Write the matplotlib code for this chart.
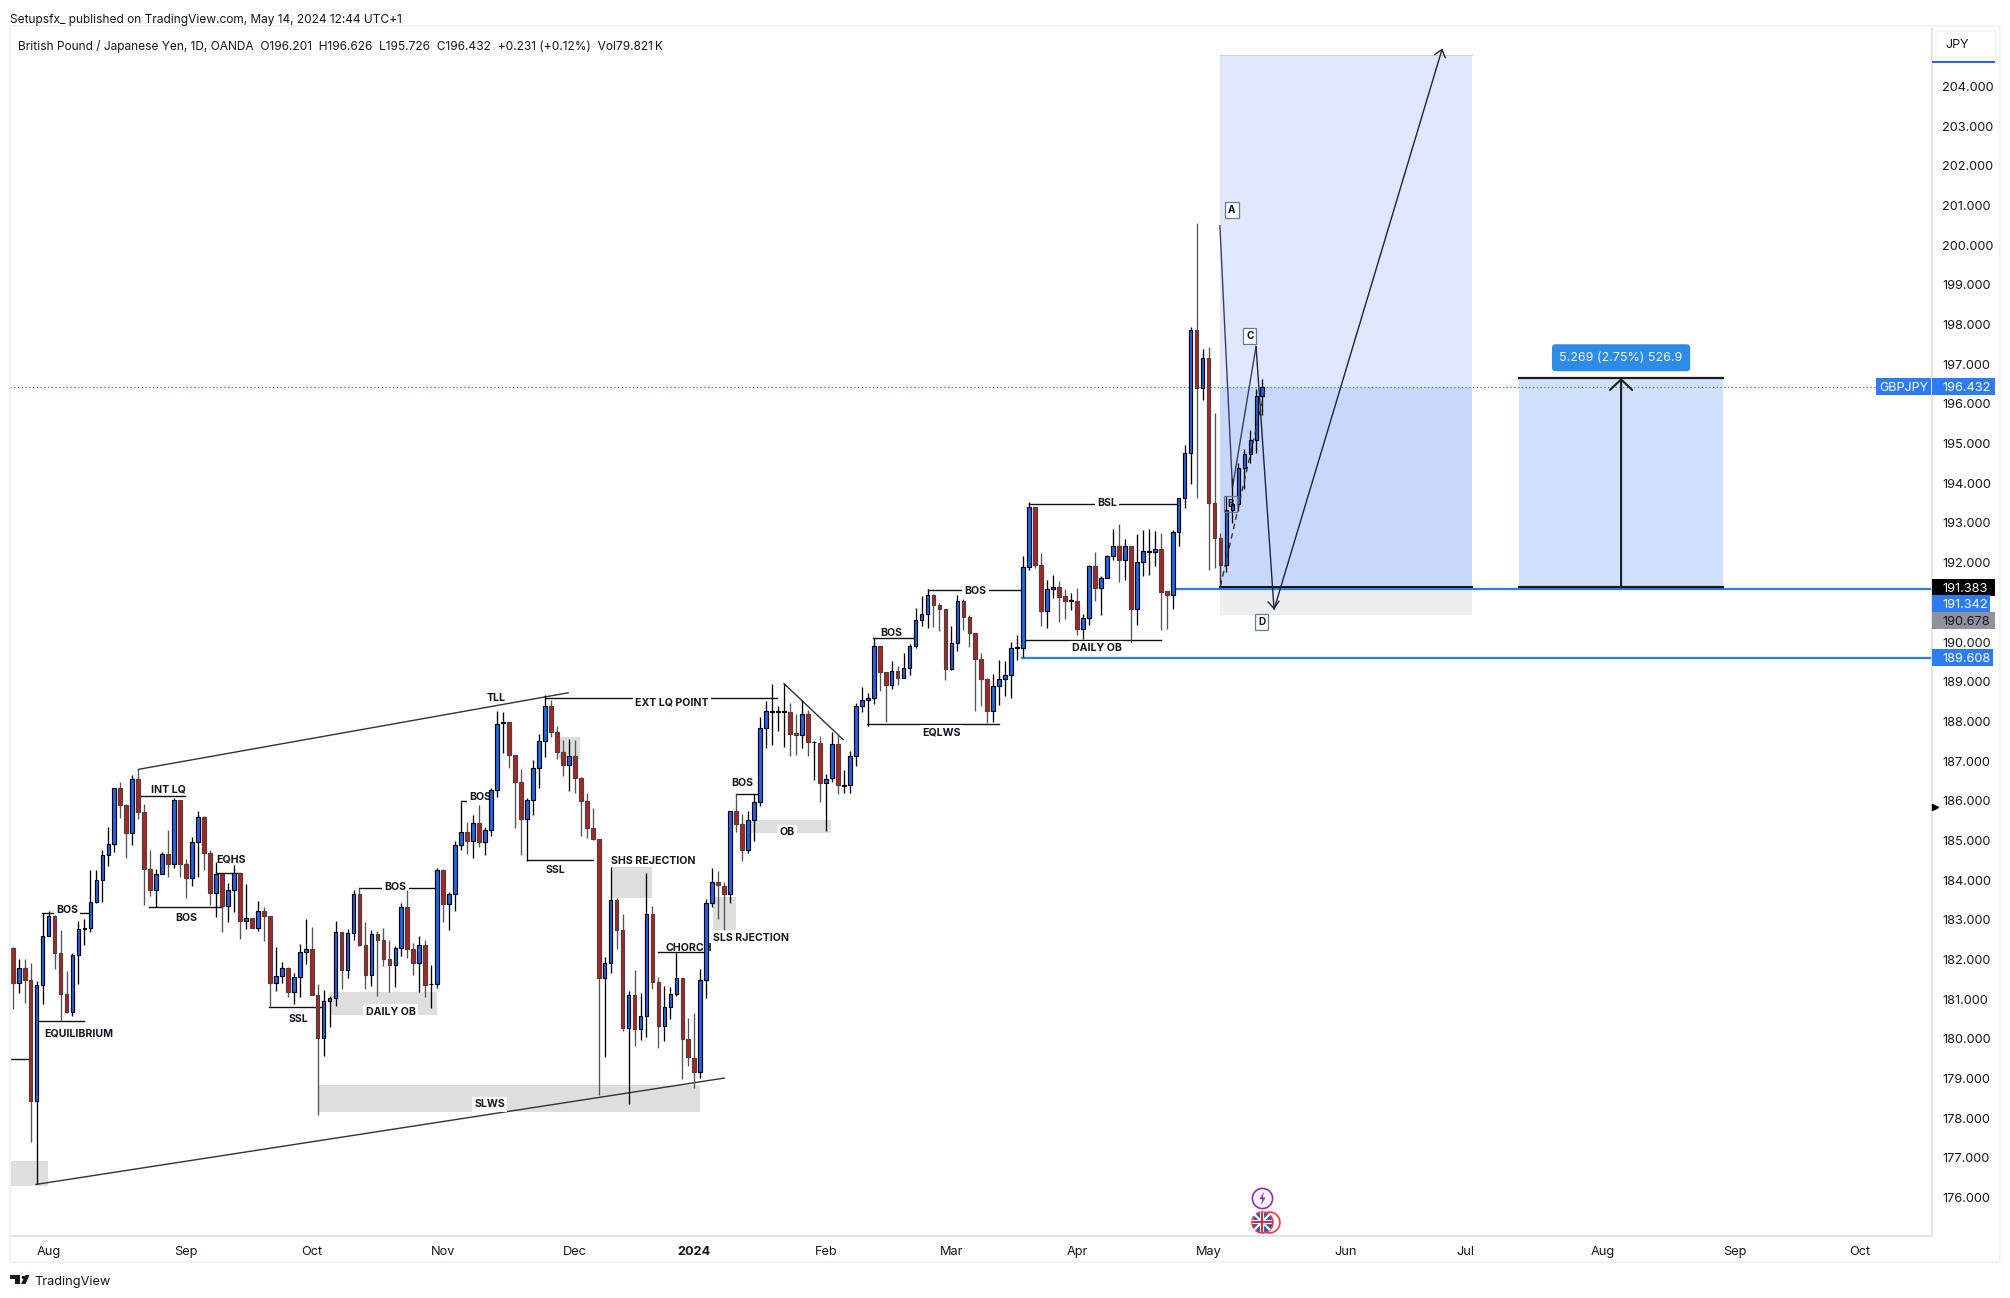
#! /usr/bin/env python

import matplotlib
matplotlib.use('Agg')
import matplotlib.pyplot as plt
from matplotlib.patches import Rectangle, FancyBboxPatch, Polygon, Circle
from matplotlib.path import Path

plt.rcParams['font.family'] = ['Inter', 'DejaVu Sans']

W, H = 2010, 1298

opens = [
    182.29,181.41,181.79,181.49,178.44,181.36,182.60,183.10,182.17,181.12,
    180.68,182.12,182.77,182.80,183.45,184.01,184.64,184.91,186.31,185.88,
    185.19,186.54,185.72,184.28,183.74,184.16,184.66,184.41,186.02,184.41,
    184.06,184.96,185.59,184.69,183.68,184.16,183.35,183.74,184.18,182.97,
    183.05,182.80,183.22,183.10,181.41,181.59,181.79,181.18,181.56,182.19,
    182.27,181.11,180.02,180.96,181.04,182.70,181.74,182.67,183.64,182.37,
    181.61,182.64,182.48,182.01,181.86,182.29,183.33,182.27,181.91,182.37,
    181.38,181.38,184.26,183.40,183.64,184.89,185.22,184.99,185.44,184.96,
    185.25,186.28,187.96,187.98,187.15,186.46,185.53,186.03,186.83,187.50,
    188.38,187.74,187.22,186.89,187.12,186.58,185.99,185.32,185.03,181.52,
    181.92,183.51,182.75,180.28,181.10,180.24,180.58,183.14,181.44,180.33,
    180.81,181.14,181.52,180.00,179.52,179.17,181.47,183.43,183.94,183.86,
    183.64,185.73,185.42,184.77,185.52,185.96,187.84,188.24,188.24,188.24,
    188.23,187.70,187.65,188.18,187.47,187.45,186.44,186.57,187.42,186.38,
    186.39,187.12,188.40,188.53,188.60,189.89,189.24,188.91,189.26,189.10,
    189.34,189.91,190.56,190.71,191.18,190.94,190.82,189.33,189.97,191.03,
    190.64,190.22,189.58,189.08,188.27,188.90,189.08,189.16,189.85,189.86,
    191.90,193.40,191.93,190.79,191.33,191.38,191.15,191.04,191.03,190.34,
    190.61,191.92,191.35,191.62,192.16,192.41,192.06,192.41,190.84,192.01,
    192.28,192.28,192.34,191.28,191.19,192.77,193.62,194.76,197.86,196.41,
    197.15,193.51,192.63,191.93,193.32,193.49,194.38,194.73,195.10,196.201,
]
highs = [
    182.32,182.00,182.02,181.90,181.45,183.18,183.23,183.13,182.75,181.72,
    182.17,182.96,183.01,184.25,184.25,184.75,185.33,186.31,186.47,185.93,
    186.66,186.79,185.93,184.77,184.27,184.70,185.25,186.06,186.02,184.54,
    185.08,185.75,185.61,184.75,184.45,184.16,183.93,184.38,184.18,183.91,
    183.05,183.48,183.33,183.10,182.31,181.94,181.81,181.66,182.40,183.01,
    182.81,181.37,181.24,181.07,182.96,182.70,182.77,183.75,183.80,182.94,
    182.73,182.71,182.80,182.50,182.35,183.41,183.74,182.42,182.58,182.50,
    181.87,184.31,184.28,183.70,184.98,185.97,185.46,185.65,185.89,185.33,
    186.31,188.27,188.24,187.98,187.15,186.79,186.08,187.03,187.68,188.66,
    188.53,187.89,187.52,187.55,187.52,186.60,186.20,185.81,185.03,182.05,
    184.33,183.56,183.14,181.21,181.73,181.16,184.18,183.35,181.56,181.33,
    181.31,182.17,181.52,180.53,180.66,181.75,183.52,184.30,184.23,183.94,
    185.73,186.18,185.66,185.74,186.18,188.12,188.52,188.94,188.39,188.95,
    188.47,188.18,188.53,188.28,187.51,187.63,186.67,187.72,187.68,186.77,
    187.26,188.47,188.87,188.72,190.09,189.89,189.24,189.52,189.40,189.72,
    189.96,190.85,191.16,191.33,191.20,190.98,190.82,190.40,191.18,191.08,
    190.68,190.22,189.72,189.10,189.19,189.54,189.52,190.01,190.18,192.16,
    193.54,193.40,192.24,191.56,191.68,191.53,191.33,191.24,191.35,190.70,
    191.93,192.27,191.66,192.19,192.84,192.97,192.59,192.41,192.71,192.82,
    192.84,192.80,192.74,191.29,192.82,193.64,194.96,197.93,200.55,197.38,
    197.44,195.77,192.74,193.68,194.14,194.52,194.86,195.34,196.37,196.626,
]
lows = [
    180.76,181.16,180.91,177.40,176.33,180.88,182.60,181.76,180.46,180.65,
    180.57,181.38,182.36,182.70,183.42,183.45,184.35,184.70,185.57,184.56,
    184.88,185.54,183.38,183.59,183.33,184.16,184.08,184.31,184.08,183.55,
    183.86,184.08,184.25,183.38,183.07,182.70,182.95,183.20,182.52,182.77,
    182.80,182.71,182.46,180.81,181.20,181.41,181.06,180.88,181.06,181.89,
    181.11,178.09,179.56,180.30,180.82,181.26,181.54,182.49,182.33,181.26,
    181.33,181.07,181.83,181.18,181.30,182.08,182.04,181.62,181.18,181.05,
    180.78,181.28,182.94,182.75,183.22,184.76,184.66,184.56,184.83,184.63,
    185.11,186.10,187.21,186.83,185.32,184.63,184.48,185.64,186.31,187.11,
    187.61,187.06,186.63,186.25,186.20,185.10,185.05,185.00,178.58,179.55,
    181.67,182.27,180.20,178.35,179.82,179.97,180.05,181.26,179.78,179.94,
    180.51,181.08,178.99,179.31,178.75,179.02,181.02,183.31,183.03,182.74,
    183.43,185.20,184.48,184.69,184.99,185.87,187.34,187.41,187.76,187.36,
    187.13,187.15,187.34,187.13,186.52,185.98,185.24,186.46,186.18,186.20,
    186.20,186.88,188.24,187.88,188.45,188.77,187.99,188.82,188.92,189.10,
    189.17,189.86,190.40,190.36,190.38,190.28,189.04,189.30,189.77,190.30,
    189.88,188.25,188.39,187.97,187.99,188.41,188.64,188.60,189.55,189.62,
    191.82,191.87,190.40,190.36,191.12,190.51,190.59,190.80,190.18,190.07,
    190.43,191.03,190.68,191.62,192.07,191.50,191.56,190.01,190.43,191.66,
    191.69,191.92,190.30,190.34,190.84,192.42,193.37,193.99,193.64,196.11,
    191.81,191.87,191.37,191.77,193.01,193.30,193.85,194.50,194.76,195.726,
]
closes = [
    181.41,181.79,181.49,178.44,181.36,182.60,183.10,182.17,181.12,180.68,
    182.12,182.77,182.80,183.45,184.01,184.64,184.91,186.31,185.88,185.19,
    186.54,185.72,184.28,183.74,184.16,184.66,184.41,186.02,184.41,184.06,
    184.96,185.59,184.69,183.68,184.16,183.35,183.74,184.18,182.97,183.05,
    182.80,183.22,183.10,181.41,181.59,181.79,181.18,181.56,182.19,182.27,
    181.11,180.02,180.96,181.04,182.70,181.74,182.67,183.64,182.37,181.61,
    182.64,182.48,182.01,181.86,182.29,183.33,182.27,181.91,182.37,181.36,
    181.39,184.26,183.40,183.64,184.89,185.22,184.99,185.44,184.96,185.25,
    186.27,187.94,187.98,187.15,186.46,185.53,186.03,186.83,187.50,188.38,
    187.74,187.22,186.89,187.12,186.58,185.99,185.32,185.03,181.52,181.92,
    183.51,182.75,180.28,181.10,180.24,180.58,183.14,181.44,180.33,180.81,
    181.14,181.52,180.00,179.54,179.17,181.47,183.43,183.94,183.87,183.64,
    185.73,185.42,184.77,185.52,185.96,187.84,188.25,188.26,188.26,188.26,
    187.69,187.65,188.18,187.47,187.48,186.44,186.56,187.42,186.39,186.40,
    187.12,188.40,188.53,188.60,189.89,189.24,188.91,189.26,189.10,189.34,
    189.91,190.56,190.71,191.18,190.94,190.82,189.33,189.97,191.03,190.64,
    190.22,189.58,189.08,188.27,188.90,189.08,189.16,189.84,189.87,191.90,
    193.40,191.93,190.79,191.33,191.38,191.14,191.04,191.06,190.34,190.61,
    191.92,191.35,191.62,192.16,192.41,192.06,192.41,190.84,192.01,192.29,
    192.30,192.34,191.27,191.19,192.77,193.62,194.76,197.86,196.41,197.15,
    193.51,192.63,191.93,193.32,193.49,194.38,194.73,195.10,196.19,196.432,
]

price_ticks = list(range(176, 205))
month_bars = [6, 29, 50, 72, 94, 114, 136, 157, 178, 200, 223, 243, 266, 288, 309]
month_labels = ['Aug', 'Sep', 'Oct', 'Nov', 'Dec', '2024', 'Feb', 'Mar', 'Apr', 'May', 'Jun', 'Jul', 'Aug', 'Sep', 'Oct']

# grey zones: bar from, bar to, price low, price high
zones = [
    (-0.45, 5.9, 176.30, 176.91),
    (53.07, 70.9, 180.60, 181.17),
    (51.0, 114.96, 178.16, 178.83),
    (91.4, 94.9, 187.06, 187.61),
    (100.0, 106.9, 183.55, 184.33),
    (117.1, 121.0, 182.74, 183.57),
    (123.3, 136.8, 185.19, 185.51),
]
# horizontal levels: bar from, bar to, price
levels = [
    (4.85, 12.65, 183.18),
    (4.35, 11.93, 180.46),
    (-0.45, 2.8, 179.48),
    (21.4, 28.9, 186.11),
    (22.8, 34.95, 183.33),
    (33.95, 38.0, 184.18),
    (42.9, 51.7, 180.81),
    (57.97, 70.9, 183.79),
    (74.9, 75.9, 186.0),
    (89.0, 127.9, 188.58),
    (86.0, 97.0, 184.50),
    (107.9, 116.1, 182.18),
    (121.0, 124.7, 186.18),
    (142.95, 165.0, 187.93),
    (143.95, 150.6, 190.09),
    (153.0, 168.76, 191.30),
    (170.0, 194.96, 193.47),
    (169.3, 192.0, 190.04),
]
# sloped lines: bar, price, bar, price
trendlines = [
    (21.0, 186.79, 92.9, 188.72),
    (3.9, 176.33, 119.0, 179.01),
    (129.0, 188.95, 138.9, 187.54),
]
labels = ['BOS', 'EQUILIBRIUM', 'INT LQ', 'BOS', 'EQHS', 'SSL', 'DAILY OB', 'BOS', 'BOS', 'SLWS', 'TLL',
          'EXT LQ POINT', 'SSL', 'SHS REJECTION', 'SLS RJECTION', 'CHORCH', 'BOS', 'OB', 'EQLWS', 'BOS',
          'BOS', 'BSL', 'DAILY OB']
label_bars = [9.1, 10.98, 26.1, 29.1, 36.57, 47.8, 63.2, 64.05, 78.15, 79.8, 80.8,
              110.2, 90.8, 107.15, 123.5, 113.0, 122.1, 129.5, 155.3, 147.0,
              161.06, 183.0, 181.3]
label_prices = [183.28, 180.17, 186.31, 183.08, 184.54, 180.53, 180.71, 183.86, 186.11, 178.37, 188.62,
                188.50, 184.27, 184.50, 182.56, 182.32, 186.46, 185.23, 187.74, 190.24,
                191.30, 193.54, 189.88]
label_boxed = [True, False, False, False, False, False, True, True, True, True, False,
               True, False, False, False, False, False, True, True, False,
               True, True, True]

pattern_bars = [201.9, 204.0, 207.95, 210.96, 239.1]
pattern_prices = [200.49, 193.89, 197.45, 190.82, 204.96]
pattern_letters = ['A', 'B', 'C', 'D']
letter_bars = [203.9, 203.7, 206.9, 208.9]
letter_prices = [200.91, 193.5, 197.73, 190.53]

long_start, long_end = 201.95, 244.1
long_top, long_entry, long_stop = 204.80, 191.383, 190.678
range_start, range_end = 252.0, 286.0
range_low, range_high = 191.383, 196.652
last_price = 196.432
lower_levels = [191.342, 189.608]
lower_starts = [194.4, 168.8]

BLUE = '#2e7bf6'
INK = '#131722'


def px_x(x):
    return x / W


def px_y(y):
    return 1 - y / H


def price_tag(ax, price, text, fc, tc, width):
    height = 17 / 39.67
    box = FancyBboxPatch((1.0, price - height / 2), width / 1922, height, transform=ax.get_yaxis_transform(),
                         boxstyle='square,pad=0', fc=fc, ec=fc, lw=0, clip_on=False, zorder=8)
    ax.add_patch(box)
    ax.text(1 + 10 / 1922, price, text, transform=ax.get_yaxis_transform(), color=tc, fontsize=9.2,
            ha='left', va='center_baseline', zorder=9, clip_on=False)


def draw_candles(ax):
    for i in range(len(opens)):
        up = closes[i] >= opens[i]
        wick = 'black' if up else '#555555'
        ax.vlines(i, lows[i], highs[i], color=wick, lw=0.95, zorder=3)
        bottom = min(opens[i], closes[i])
        height = abs(closes[i] - opens[i])
        ax.bar(i, height, bottom=bottom, width=0.62, color='#2167e6' if up else '#b02222',
               edgecolor='black' if up else '#444444', lw=0.85, zorder=3.2)


def arrow(ax, start, end, color, lw, head_length, head_width):
    ax.annotate('', xy=end, xytext=start, zorder=4,
                arrowprops=dict(arrowstyle='->,head_length=%s,head_width=%s' % (head_length, head_width),
                                color=color, lw=lw, shrinkA=0, shrinkB=0, mutation_scale=10))


fig = plt.figure(figsize=(W / 100, H / 100), dpi=100)
fig.patch.set_facecolor('white')

ax = fig.add_axes([px_x(10), px_y(1236), px_x(1922), 1209 / H])
ax.set_xlim(-0.45, 321.0)
ax.set_ylim(175.03, 205.50)
ax.set_facecolor('white')

# long position tool
ax.add_patch(Rectangle((long_start, last_price), long_end - long_start, long_top - last_price, fc='#dfe8fd', ec='none', zorder=1))
ax.add_patch(Rectangle((long_start, long_entry), long_end - long_start, last_price - long_entry, fc='#c8d8fd', ec='none', zorder=1))
ax.add_patch(Rectangle((long_start, long_stop), long_end - long_start, long_entry - long_stop, fc='#eeeef0', ec='none', zorder=1))
ax.plot([long_start, long_end], [long_top, long_top], color='#c3cfe8', lw=0.7, zorder=1.1)

# measuring box
ax.add_patch(Rectangle((range_start, range_low), range_end - range_start, range_high - range_low, fc='#d0e2fb', ec='none', zorder=1))

for x0, x1, y0, y1 in zones:
    ax.add_patch(Rectangle((x0, y0), x1 - x0, y1 - y0, fc='#dedede', ec='none', zorder=1.2))

for x0, x1, y in levels:
    ax.plot([x0, x1], [y, y], color='#111111', lw=1.0, zorder=2)

for x0, y0, x1, y1 in trendlines:
    ax.plot([x0, x1], [y0, y1], color='#333333', lw=1.0, zorder=2)

ax.axhline(last_price, color=BLUE, lw=0.9, ls=(0, (1, 2)), zorder=2)

for price, start in zip(lower_levels, lower_starts):
    ax.plot([start, 321], [price, price], color=BLUE, lw=1.6, zorder=2)

for text, x, y, boxed in zip(labels, label_bars, label_prices, label_boxed):
    t = ax.text(x, y, text, fontsize=7.6, fontweight='bold', color=INK, ha='center', va='center_baseline', zorder=2.5)
    if boxed:
        t.set_bbox(dict(fc='white', ec='none', pad=1.6))

draw_candles(ax)

ax.plot([long_start, long_end], [long_entry, long_entry], color='black', lw=1.3, zorder=4)
ax.plot([range_start, range_end], [range_low, range_low], color='#1c1c1c', lw=1.6, zorder=4)
ax.plot([range_start, range_end], [range_high, range_high], color='#1c1c1c', lw=1.6, zorder=4)
mid_bar = (range_start + range_end) / 2
arrow(ax, (mid_bar, range_low), (mid_bar, range_high), '#1c1c1c', 1.5, 0.75, 0.8)

# harmonic drawing
ax.plot(pattern_bars[:3], pattern_prices[:3], color='#1c2540', lw=1.0, alpha=0.85, zorder=4)
arrow(ax, (pattern_bars[2], pattern_prices[2]), (pattern_bars[3], pattern_prices[3]), '#1c2540', 1.0, 0.5, 0.4)
arrow(ax, (pattern_bars[3], pattern_prices[3]), (pattern_bars[4], pattern_prices[4]), '#1c2540', 1.0, 0.5, 0.4)
ax.plot([202, 209.4], [191.41, 196.33], color='#333333', lw=1.0, ls=(0, (4, 3)), zorder=4)
ax.plot([202, 202], [191.38, 192.0], color='#333333', lw=0.9, zorder=4)

for text, x, y in zip(pattern_letters, letter_bars, letter_prices):
    ax.text(x, y, text, fontsize=7.2, fontweight='bold', color=INK, ha='center', va='center_baseline', zorder=5,
            bbox=dict(fc='white' if text != 'B' else 'none', ec='#5f7f9f', lw=0.9, boxstyle='square,pad=0.3'))

# event icons
bolt = Path([(0.25, 1), (-0.45, -0.1), (-0.02, -0.1), (-0.25, -1), (0.45, 0.15), (0.02, 0.15), (0.25, 1)], closed=True)
ax.plot([209], [176.0], marker='o', ms=14.5, mfc='white', mec='#9c27b0', mew=1.2, ls='none', zorder=6)
ax.plot([209], [176.0], marker=bolt, ms=10, mfc='#9c27b0', mec='none', ls='none', zorder=7)
ax.plot([210.1], [175.38], marker='o', ms=15, mfc='white', mec='#f23645', mew=1.2, ls='none', zorder=6)
ax.plot([208.9], [175.38], marker='o', ms=15, mfc='#2a5caa', mec='#f23645', mew=1.2, ls='none', zorder=6)
ax.plot([208.9], [175.38], marker='x', ms=12, mec='white', mew=1.6, ls='none', zorder=6.3)
ax.plot([208.9], [175.38], marker='+', ms=14, mec='white', mew=3, ls='none', zorder=6.5)
ax.plot([208.9], [175.38], marker='+', ms=14, mec='#e0243a', mew=1.4, ls='none', zorder=6.7)

# scales
ax.yaxis.tick_right()
ax.set_yticks(price_ticks)
ax.set_yticklabels(['%.3f' % p for p in price_ticks], fontsize=9.2, color=INK)
ax.tick_params(axis='y', length=0, pad=7.2)
ax.set_xticks(month_bars)
ax.set_xticklabels(month_labels, fontsize=9.2, color=INK)
ax.get_xticklabels()[5].set_fontweight('bold')
ax.tick_params(axis='x', length=0, pad=7.5)
for side in ['top', 'left']:
    ax.spines[side].set_visible(False)
for side in ['right', 'bottom']:
    ax.spines[side].set_color('#e0e3eb')
    ax.spines[side].set_linewidth(1.3)

price_tag(ax, 191.383, '191.383', 'black', 'white', 63)
price_tag(ax, 190.977, '191.342', BLUE, 'white', 58)
price_tag(ax, 190.55, '190.678', '#8f929b', INK, 63)
price_tag(ax, 189.608, '189.608', BLUE, 'white', 61)
price_tag(ax, last_price, '196.432', BLUE, 'white', 63)

# symbol tag and marker, measuring label
ax.add_patch(FancyBboxPatch((1 - 56 / 1922, last_price - 17 / 39.67 / 2), 55 / 1922, 17 / 39.67, transform=ax.get_yaxis_transform(),
                            boxstyle='square,pad=0', fc=BLUE, ec='none', zorder=8))
ax.text(1 - 28.5 / 1922, last_price, 'GBPJPY', transform=ax.get_yaxis_transform(), color='white', fontsize=9, ha='center', va='center_baseline', zorder=9)
ax.plot([1.0015], [185.84], marker='>', ms=4.5, color='black', ls='none', transform=ax.get_yaxis_transform(), clip_on=False, zorder=9)
ax.text(mid_bar, range_high + 0.55, '5.269 (2.75%) 526.9', color='#f0f5fd', fontsize=9, ha='center', va='center_baseline', zorder=9,
        bbox=dict(boxstyle='round,pad=0.6,rounding_size=0.3', fc='#2e8ce8', ec='none'))

# page furniture
fig.add_artist(Rectangle((px_x(10), px_y(1262)), px_x(1990), 1236 / H, fc='none', ec='#f0f3fa', lw=1.6, transform=fig.transFigure))
fig.add_artist(FancyBboxPatch((px_x(1936), px_y(57)), px_x(60), 26 / H, boxstyle='square,pad=0', fc='none', ec='#f0f3fa', lw=1.2, transform=fig.transFigure))
fig.add_artist(Rectangle((px_x(1932), px_y(63)), px_x(63), 2 / H, fc='#2962ff', ec='none', transform=fig.transFigure))
fig.text(px_x(1945), px_y(44), 'JPY', fontsize=9, color=INK, ha='left', va='center_baseline')
fig.text(px_x(10), px_y(19), 'Setupsfx_ published on TradingView.com, May 14, 2024 12:44 UTC+1', fontsize=8.57, color=INK, ha='left', va='center_baseline')
fig.text(px_x(18), px_y(45), 'British Pound / Japanese Yen, 1D, OANDA  O196.201  H196.626  L195.726  C196.432  +0.231 (+0.12%)  Vol79.821\u2009K',
         fontsize=8.58, color=INK, ha='left', va='center_baseline')
fig.text(px_x(34), px_y(1281), 'TradingView', fontsize=9.2, color=INK, ha='left', va='center_baseline')
fig.add_artist(Polygon([(px_x(10), px_y(1275)), (px_x(20), px_y(1275)), (px_x(20), px_y(1284)), (px_x(15), px_y(1284)), (px_x(15), px_y(1279)), (px_x(10), px_y(1279))],
                       fc=INK, ec='none', transform=fig.transFigure))
fig.add_artist(Polygon([(px_x(25.5), px_y(1275)), (px_x(29.5), px_y(1275)), (px_x(25.5), px_y(1284)), (px_x(21), px_y(1284))],
                       fc=INK, ec='none', transform=fig.transFigure))
fig.add_artist(Rectangle((px_x(21.5), px_y(1279)), px_x(3.5), 3.5 / H, fc=INK, ec='none', transform=fig.transFigure))

fig.savefig('out.png', dpi=100)
